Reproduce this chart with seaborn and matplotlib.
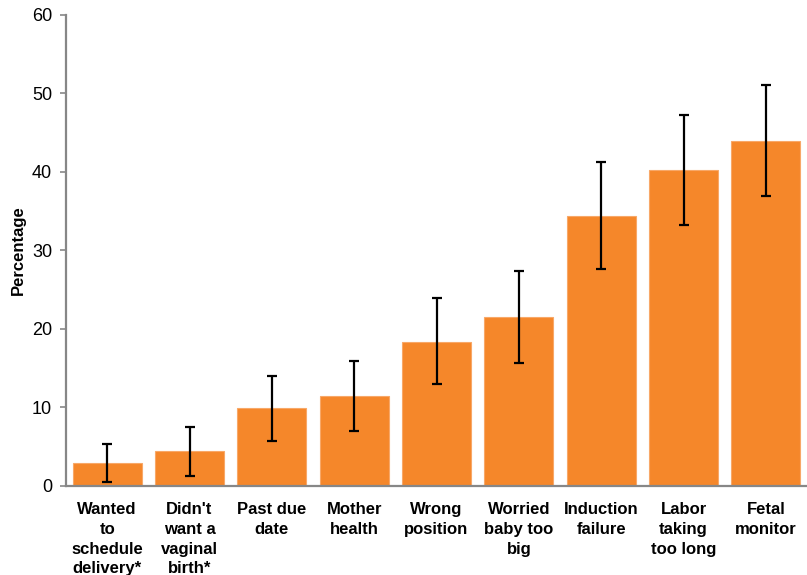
import numpy as np
import pandas as pd
import matplotlib.pyplot as plt
import seaborn as sns

# Reasons for cesarean delivery, percentage with confidence limits
reasons = [
    "Wanted\nto\nschedule\ndelivery*",
    "Didn't\nwant a\nvaginal\nbirth*",
    "Past due\ndate",
    "Mother\nhealth",
    "Wrong\nposition",
    "Worried\nbaby too\nbig",
    "Induction\nfailure",
    "Labor\ntaking\ntoo long",
    "Fetal\nmonitor",
]
percentage = [2.9, 4.5, 9.9, 11.5, 18.3, 21.5, 34.4, 40.3, 43.9]
ci_lower = [0.5, 1.3, 5.7, 7.0, 13.0, 15.7, 27.6, 33.2, 36.9]
ci_upper = [5.3, 7.5, 14.0, 15.9, 23.9, 27.4, 41.3, 47.3, 51.1]

df = pd.DataFrame({"Reason": reasons, "Percentage": percentage})

sns.set_style("white")
plt.rcParams["font.family"] = ["Liberation Sans", "DejaVu Sans"]
plt.rcParams["text.color"] = "black"
plt.rcParams["axes.labelcolor"] = "black"

fig = plt.figure(figsize=(8.07, 5.75), dpi=100)
ax = fig.add_axes([0.0818, 0.1548, 0.9182, 0.8192])

sns.barplot(data=df, x="Reason", y="Percentage", order=reasons,
            color="#F5872A", saturation=1, width=0.84, ax=ax,
            edgecolor="#F8A868", linewidth=0.8)

yerr = np.array([np.array(percentage) - np.array(ci_lower),
                 np.array(ci_upper) - np.array(percentage)])
ax.errorbar(np.arange(len(reasons)), percentage, yerr=yerr, fmt="none",
            ecolor="black", elinewidth=1.6, capsize=3.5, capthick=1.6)

ax.set_xlim(-0.5, len(reasons) - 0.5)
ax.set_ylim(0, 60)
ax.set_yticks(range(0, 61, 10))
ax.set_xlabel("")
ax.set_ylabel("Percentage", fontsize=12, fontweight="bold", labelpad=4)

for side in ["top", "right"]:
    ax.spines[side].set_visible(False)
for side in ["left", "bottom"]:
    ax.spines[side].set_color("#878787")
    ax.spines[side].set_linewidth(1.6)

ax.tick_params(axis="y", left=True, length=4, width=1.2, color="#878787",
               labelsize=13, pad=6, labelcolor="black")
ax.tick_params(axis="x", bottom=False, labelsize=12, pad=8,
               labelcolor="black")
for lbl in ax.get_xticklabels():
    lbl.set_fontweight("bold")
    lbl.set_linespacing(1.4)
    lbl.set_verticalalignment("top")

fig.savefig("out.png", dpi=100)
